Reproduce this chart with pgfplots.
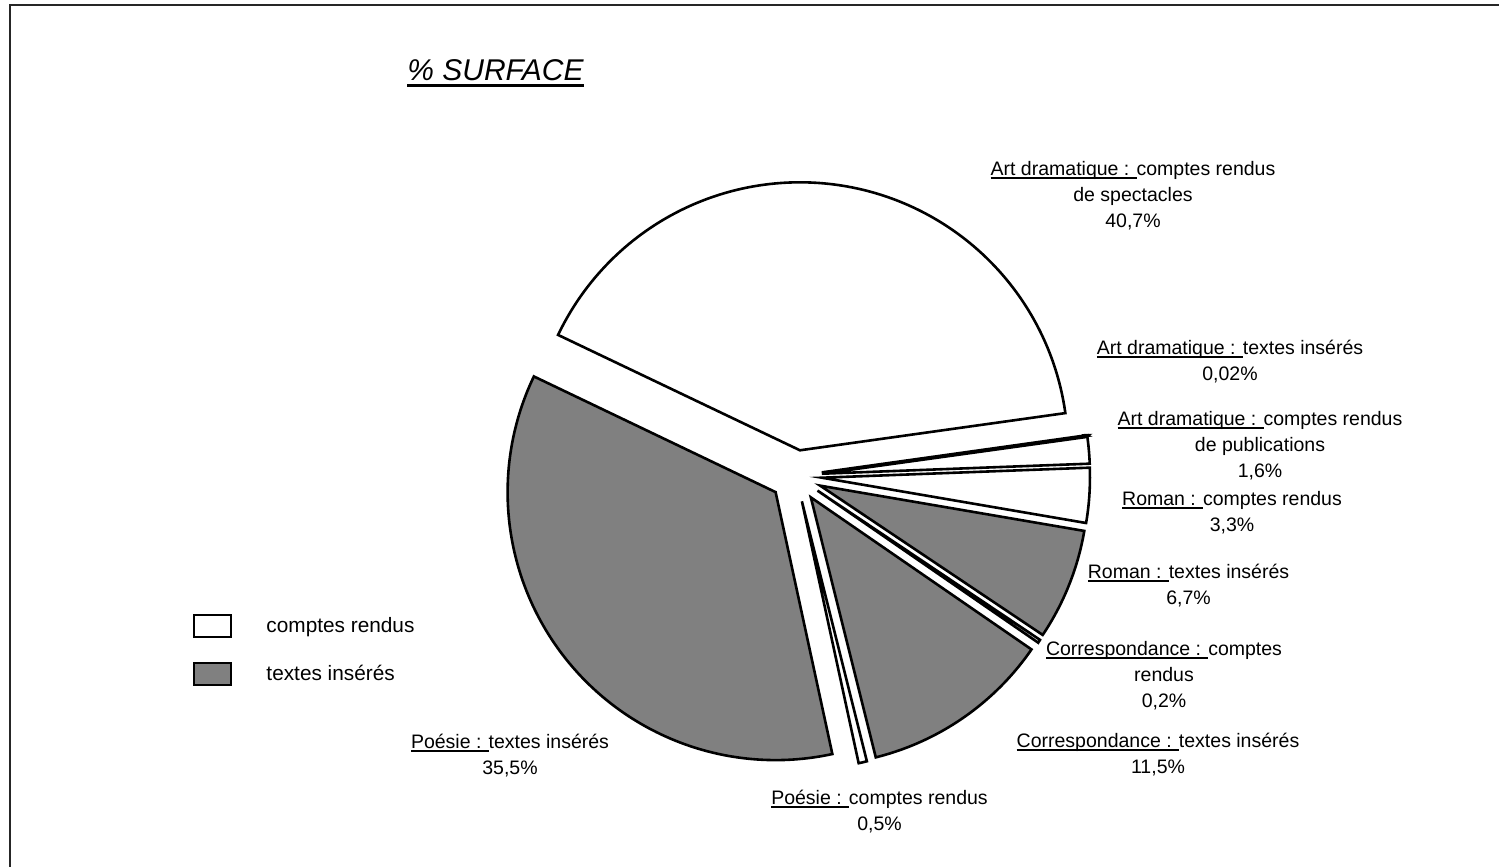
\documentclass[border=0pt]{standalone}
\usepackage{pgfplots}
\usepackage{pgfplotstable}
\pgfplotsset{compat=1.18}
\usepackage{fontspec}
\setmainfont{Liberation Sans}
\definecolor{piegray}{RGB}{128,128,128}
\newsavebox\ulbox
% underline: #1 = bottom offset, #2 = thickness, #3 = text
\newcommand\ulx[3]{\sbox\ulbox{#3}\rlap{\rule[-#1]{\wd\ulbox}{#2}}\usebox\ulbox}
\newcommand\ul[1]{\ulx{1.6pt}{0.9pt}{#1}}
\newcommand\lbl{\fontsize{9.75}{13}\selectfont}

\pgfplotstableread{
pct shade
40.7 0
0.02 0
1.6 0
3.3 0
6.7 1
0.2 0
11.5 1
0.5 0
35.5 1
}\slices

\begin{document}
\begin{tikzpicture}
\begin{axis}[
  scale only axis, width=749.5pt, height=433.5pt,
  xmin=0, xmax=1499, ymin=0, ymax=867,
  hide axis, clip=false,
  legend style={draw=none, fill=none, inner sep=0pt,
    at={(axis description cs:0.1288,0.292)}, anchor=north west,
    font=\fontsize{10.4}{12.5}\selectfont, row sep=12pt,
    nodes={inner sep=0pt}},
  legend cell align=left,
  /tikz/every odd column/.append style={column sep=17pt},
  legend image code/.code={\draw[#1] (0pt,-5.5pt) rectangle (18.5pt,5.5pt);},
]
\addlegendimage{draw=black, line width=1pt, fill=white}
\addlegendentry{comptes rendus}
\addlegendimage{draw=black, line width=1pt, fill=piegray}
\addlegendentry{textes insérés}

\def\piecum{154.5}
\pgfplotsforeachungrouped \i in {0,...,8}{%
  \pgfplotstablegetelem{\i}{pct}\of\slices \let\piepct\pgfplotsretval
  \pgfplotstablegetelem{\i}{shade}\of\slices \let\pieshade\pgfplotsretval
  \pgfmathsetmacro\pieS{\piecum}%
  \pgfmathsetmacro\pieE{\piecum-3.6*\piepct}%
  \pgfmathsetmacro\pieM{(\pieS+\pieE)/2}%
  \pgfmathsetmacro\pievx{796+26*cos(\pieM)}%
  \pgfmathsetmacro\pievy{391+26*sin(\pieM)}%
  \global\let\piecum\pieE
  \ifnum\pieshade=1 \def\piefc{piegray}\else\def\piefc{white}\fi
  \edef\temp{\noexpand\addplot[draw=black, line width=1.3pt, fill=\piefc,
     no markers, forget plot, domain=\pieE:\pieS, samples=150]
     ({\pievx+268*cos(x)},{\pievy+268*sin(x)}) -- (axis cs:\pievx,\pievy) -- cycle;}%
  \temp
}

% frame (left and top)
\draw[line width=1pt, black!85] (axis cs:10,0) -- (axis cs:10,862) -- (axis cs:1499,862);

% title
\node[anchor=base, inner sep=0pt, font=\fontsize{15}{18}\selectfont\itshape]
  at (axis cs:495.5,786) {\ulx{3.2pt}{1.6pt}{\% SURFACE}};

% labels
\begin{scope}[every node/.style={align=center, inner sep=0pt, font=\lbl}]
\node at (axis cs:1133,671) {\ul{Art dramatique : }comptes rendus\\de spectacles\\40,7\%};
\node at (axis cs:1230,505) {\ul{Art dramatique : }textes insérés\\0,02\%};
\node at (axis cs:1260,421) {\ul{Art dramatique : }comptes rendus\\de publications\\1,6\%};
\node at (axis cs:1232,354) {\ul{Roman : }comptes rendus\\3,3\%};
\node at (axis cs:1188.5,281) {\ul{Roman : }textes insérés\\6,7\%};
\node at (axis cs:1164,191) {\ul{Correspondance : }comptes\\rendus\\0,2\%};
\node at (axis cs:1158,112.5) {\ul{Correspondance : }textes insérés\\11,5\%};
\node at (axis cs:879.5,55) {\ul{Poésie : }comptes rendus\\0,5\%};
\node at (axis cs:510,111) {\ul{Poésie : }textes insérés\\35,5\%};
\end{scope}
\end{axis}
\pgfresetboundingbox
\useasboundingbox (current axis.south west) rectangle (current axis.north east);
\end{tikzpicture}
\end{document}
